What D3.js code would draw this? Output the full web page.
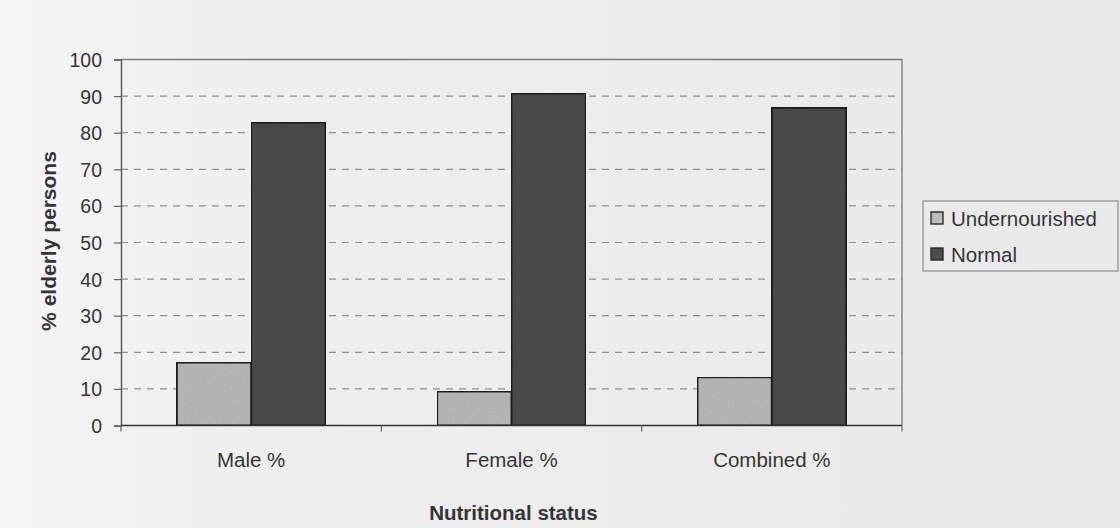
<!DOCTYPE html>
<html>
<head>
<meta charset="utf-8">
<script src="https://cdn.jsdelivr.net/npm/d3@7"></script>
<style>
  html, body { margin: 0; padding: 0; background: #eeeeee; }
  svg { display: block; }
  text { font-family: "Liberation Sans", Arial, sans-serif; fill: #353535; }
</style>
</head>
<body>
<svg id="chart" width="1120" height="528"></svg>
<script>
// Nutritional status of elderly persons, by sex
const categories = ["Male %", "Female %", "Combined %"];
const seriesNames = ["Undernourished", "Normal"];
const undernourished = [17.2, 9.3, 13.2];
const normal = [82.8, 90.7, 86.8];
const yTicks = [0, 10, 20, 30, 40, 50, 60, 70, 80, 90, 100];

const seriesValues = [undernourished, normal];
const seriesFill = ["#bcbcbc", "#4e4e4e"];

const svg = d3.select("#chart");
const W = 1120, H = 528;
const plot = { left: 121, right: 902, top: 59.5, bottom: 425.5 };

// background wash: slightly whiter on the left
const defs = svg.append("defs");
const bg = defs.append("linearGradient").attr("id", "bg").attr("x1", 0).attr("x2", 1).attr("y1", 0).attr("y2", 0);
bg.append("stop").attr("offset", "0%").attr("stop-color", "#f5f5f5");
bg.append("stop").attr("offset", "25%").attr("stop-color", "#eeeeee");
bg.append("stop").attr("offset", "100%").attr("stop-color", "#e9e9e9");
svg.append("rect").attr("width", W).attr("height", H).attr("fill", "url(#bg)");

// grain for bar fills
const grain = defs.append("filter").attr("id", "grain").attr("x", 0).attr("y", 0).attr("width", 1).attr("height", 1);
grain.append("feTurbulence").attr("type", "fractalNoise").attr("baseFrequency", 0.9).attr("numOctaves", 2).attr("seed", 4).attr("result", "noise");
grain.append("feColorMatrix").attr("in", "noise").attr("type", "matrix")
  .attr("values", "0 0 0 0 0  0 0 0 0 0  0 0 0 0 0  0 0 0 0.22 0").attr("result", "dots");
grain.append("feComposite").attr("in", "dots").attr("in2", "SourceGraphic").attr("operator", "atop");

const x = d3.scaleBand()
  .domain(categories)
  .range([plot.left, plot.right])
  .paddingInner(1.5 / 3.5)
  .paddingOuter(0.75 / 3.5);

const xs = d3.scaleBand().domain(seriesNames).range([0, x.bandwidth()]);

const y = d3.scaleLinear().domain([0, 100]).range([plot.bottom, plot.top]);

// dashed gridlines
svg.append("g")
  .selectAll("line")
  .data(yTicks.filter(t => t > 0 && t < 100))
  .join("line")
  .attr("x1", plot.left).attr("x2", plot.right)
  .attr("y1", d => y(d)).attr("y2", d => y(d))
  .attr("stroke", "#8e8e8e").attr("stroke-width", 1.2)
  .attr("stroke-dasharray", "7,6");

// plot frame (top and right)
svg.append("path")
  .attr("d", `M${plot.left},${plot.top}H${plot.right}V${plot.bottom}`)
  .attr("fill", "none").attr("stroke", "#7a7a7a").attr("stroke-width", 1.3);

// bars
const groups = svg.append("g").selectAll("g")
  .data(categories)
  .join("g")
  .attr("transform", d => `translate(${x(d)},0)`);

groups.selectAll("rect")
  .data((c, i) => seriesNames.map((s, j) => ({ s, j, v: seriesValues[j][i] })))
  .join("rect")
  .attr("x", d => xs(d.s))
  .attr("width", xs.bandwidth())
  .attr("y", d => y(d.v))
  .attr("height", d => y(0) - y(d.v))
  .attr("fill", d => seriesFill[d.j])
  .attr("filter", "url(#grain)")
  .attr("stroke", "#1e1e1e").attr("stroke-width", 2);

// y axis
const yAxis = d3.axisLeft(y).tickValues(yTicks).tickSize(7).tickPadding(12);
const gy = svg.append("g").attr("transform", `translate(${plot.left},0)`).call(yAxis);
gy.select(".domain").attr("stroke", "#555").attr("stroke-width", 1.4);
gy.selectAll(".tick line").attr("stroke", "#666").attr("stroke-width", 1.2);
gy.selectAll(".tick text").attr("font-size", 19.5).attr("fill", "#353535")
  .attr("font-family", "'Liberation Sans', Arial, sans-serif").attr("dy", "0.36em");

// x axis: ticks between categories
const xAxisLine = svg.append("g");
xAxisLine.append("line")
  .attr("x1", plot.left).attr("x2", plot.right)
  .attr("y1", plot.bottom).attr("y2", plot.bottom)
  .attr("stroke", "#333").attr("stroke-width", 1.6);
const step = x.step();
xAxisLine.selectAll("line.tk")
  .data(d3.range(categories.length + 1))
  .join("line").attr("class", "tk")
  .attr("x1", i => plot.left + i * step).attr("x2", i => plot.left + i * step)
  .attr("y1", plot.bottom).attr("y2", plot.bottom + 6)
  .attr("stroke", "#666").attr("stroke-width", 1.2);

svg.append("g").selectAll("text")
  .data(categories)
  .join("text")
  .attr("x", d => x(d) + x.bandwidth() / 2)
  .attr("y", 467)
  .attr("text-anchor", "middle")
  .attr("font-size", 20.5)
  .text(d => d);

// axis titles
svg.append("text")
  .attr("x", (plot.left + plot.right) / 2 + 2)
  .attr("y", 520)
  .attr("text-anchor", "middle")
  .attr("font-size", 20.5).attr("font-weight", "bold")
  .text("Nutritional status");

svg.append("text")
  .attr("transform", "translate(56,241) rotate(-90)")
  .attr("text-anchor", "middle")
  .attr("font-size", 21).attr("font-weight", "bold")
  .text("% elderly persons");

// legend
const legend = svg.append("g").attr("transform", "translate(923,201)");
legend.append("rect")
  .attr("width", 195).attr("height", 70)
  .attr("fill", "none").attr("stroke", "#8c8c8c").attr("stroke-width", 1.2);
const li = legend.selectAll("g.item")
  .data(seriesNames)
  .join("g").attr("class", "item")
  .attr("transform", (d, i) => `translate(8,${11 + i * 36})`);
li.append("rect")
  .attr("width", 12).attr("height", 12)
  .attr("fill", (d, i) => seriesFill[i])
  .attr("stroke", "#2a2a2a").attr("stroke-width", 1.4);
li.append("text")
  .attr("x", 20).attr("y", 14)
  .attr("font-size", 20.5)
  .text(d => d);
</script>
</body>
</html>
